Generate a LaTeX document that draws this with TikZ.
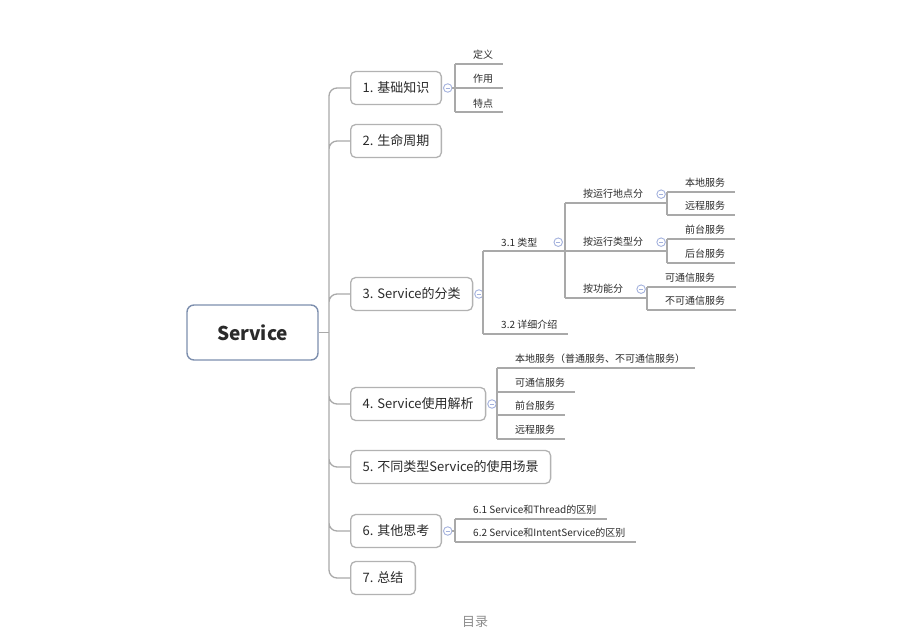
\documentclass[tikz,border=0pt]{standalone}
\usepackage{fontspec}
\setmainfont{Noto Sans CJK SC}
\usetikzlibrary{positioning}
\definecolor{astgrau}{HTML}{A9A9A9}
\definecolor{boxgrau}{HTML}{B2B2B2}
\definecolor{wurzelblau}{HTML}{7D8FAE}
\definecolor{knopfblau}{HTML}{A3B1DD}
\definecolor{schrift}{HTML}{2A2A2A}
\tikzset{
	%Define style for the root box
	wurzel/.style={
		rectangle,
		rounded corners=7pt,
		draw=wurzelblau, line width=1.4pt,
		fill=white,
		minimum width=131pt,
		minimum height=55pt,
		text=schrift,
		font=\fontsize{19}{21}\selectfont\bfseries},
	%Define style for first level boxes
	thema/.style={
		rectangle,
		rounded corners=5pt,
		draw=boxgrau, line width=1.3pt,
		fill=white,
		inner xsep=12pt,
		minimum height=33pt,
		text=schrift,
		font=\fontsize{13}{15}\selectfont},
	%Define style for underlined leaves
	blatt/.style={
		inner xsep=10pt,
		inner ysep=4pt,
		text=schrift,
		font=\fontsize{10}{11}\selectfont},
	blattw/.style={
		blatt,
		text width=#1,
		align=left},
	%Define style for the fold buttons
	knopf/.style={
		circle,
		draw=knopfblau, line width=0.9pt,
		fill=white,
		minimum size=8.5pt,
		inner sep=0pt,
		path picture={\draw[knopfblau, line width=0.8pt]
			([xshift=-2pt]path picture bounding box.center) --
			([xshift=2pt]path picture bounding box.center);}},
	% Define branch style
	ast/.style={
		draw=astgrau,
		line width=1.3pt}
}
\begin{document}
\begin{tikzpicture}[x=1pt, y=-1pt]
	\useasboundingbox (0,0) rectangle (905,635);
	
	\node[wurzel] (service) at (252.5,332.5) {Service};
	
	\node[thema, anchor=west] (t1) at (350,88) {1. 基础知识};
	\node[thema, anchor=west] (t2) at (350,141) {2. 生命周期};
	\node[thema, anchor=west] (t3) at (350,294) {3. Service的分类};
	\node[thema, anchor=west] (t4) at (350,404) {4. Service使用解析};
	\node[thema, anchor=west] (t5) at (350,467) {5. 不同类型Service的使用场景};
	\node[thema, anchor=west] (t6) at (350,531) {6. 其他思考};
	\node[thema, anchor=west] (t7) at (350,578) {7. 总结};
	
	% trunk
	\coordinate (stamm) at (329,332.5);
	\draw[ast] (service.east) -- (stamm);
	\draw[ast, rounded corners=8pt]
	(stamm) |- (t1.west) (stamm) |- (t2.west) (stamm) |- (t3.west)
	(stamm) |- (t4.west) (stamm) |- (t5.west) (stamm) |- (t6.west)
	(stamm) |- (t7.west);
	
	% 1. basics
	\node[knopf, right=1pt of t1] (f1) {};
	\coordinate (k1a) at (455,64);
	\coordinate (k1b) at (455,88);
	\coordinate (k1c) at (455,112);
	\node[blatt, above right=0pt and 8pt of k1a] (t1-def) {定义};
	\node[blatt, above right=0pt and 8pt of k1b] (t1-use) {作用};
	\node[blatt, above right=0pt and 8pt of k1c] (t1-feat) {特点};
	\draw[ast] (k1a) -- (k1c);
	\draw[ast] (f1.east) -- (t1-use.south east);
	\draw[ast] (k1a) -- (t1-def.south east);
	\draw[ast] (k1c) -- (t1-feat.south east);
	
	% 3. classes
	\node[knopf, right=1pt of t3] (f3) {};
	\coordinate (k3a) at (483,251);
	\coordinate (k3b) at (483,334);
	\node[blatt, above right=0pt and 8pt of k3a] (t3-typ) {3.1 类型};
	\node[blatt, above right=0pt and 8pt of k3b] (t3-det) {3.2 详细介绍};
	\node[knopf, right=6pt of t3-typ] (f31) {};
	
	\coordinate (k31a) at (565,203);
	\coordinate (k31b) at (565,251);
	\coordinate (k31c) at (565,298);
	\node[blatt, above right=0pt and 8pt of k31a] (ort) {按运行地点分};
	\node[blatt, above right=0pt and 8pt of k31b] (art) {按运行类型分};
	\node[blatt, above right=0pt and 8pt of k31c] (fkt) {按功能分};
	\node[knopf, right=3pt of ort] (f-ort) {};
	\node[knopf, right=3pt of art] (f-art) {};
	\node[knopf, right=3pt of fkt] (f-fkt) {};
	
	\coordinate (ka) at (667,203);
	\coordinate (ka1) at (667,192);
	\coordinate (ka2) at (667,215);
	\coordinate (kb) at (667,251);
	\coordinate (kb1) at (667,239);
	\coordinate (kb2) at (667,263);
	\coordinate (kc) at (647,298);
	\coordinate (kc1) at (647,287);
	\coordinate (kc2) at (647,310);
	\node[blatt, above right=0pt and 8pt of ka1] (ort-lok) {本地服务};
	\node[blatt, above right=0pt and 8pt of ka2] (ort-fern) {远程服务};
	\node[blatt, above right=0pt and 8pt of kb1] (art-vor) {前台服务};
	\node[blatt, above right=0pt and 8pt of kb2] (art-hin) {后台服务};
	\node[blattw=61pt, above right=0pt and 8pt of kc1] (fkt-ja) {可通信服务};
	\node[blattw=61pt, above right=0pt and 8pt of kc2] (fkt-nein) {不可通信服务};
	
	\draw[ast] (f3.east) -- (f3.east -| k3a);
	\draw[ast] (k3a) -- (k3b);
	\draw[ast] (k3a) -- (k31b) -- (kb);
	\draw[ast] (k3b) -- (t3-det.south east);
	\draw[ast] (k31a) -- (k31c);
	\draw[ast] (k31a) -- (ka);
	\draw[ast] (k31c) -- (kc);
	\draw[ast] (ka1) -- (ka2);
	\draw[ast] (kb1) -- (kb2);
	\draw[ast] (kc1) -- (kc2);
	\draw[ast] (ka1) -- (ort-lok.south east);
	\draw[ast] (ka2) -- (ort-fern.south east);
	\draw[ast] (kb1) -- (art-vor.south east);
	\draw[ast] (kb2) -- (art-hin.south east);
	\draw[ast] (kc1) -- (fkt-ja.south east);
	\draw[ast] (kc2) -- (fkt-nein.south east);
	
	% 4. usage
	\node[knopf, right=1pt of t4] (f4) {};
	\coordinate (k4a) at (497,368);
	\coordinate (k4b) at (497,392);
	\coordinate (k4c) at (497,415);
	\coordinate (k4d) at (497,439);
	\node[blatt, above right=0pt and 8pt of k4a] (t4-lok) {本地服务（普通服务、不可通信服务）};
	\node[blatt, above right=0pt and 8pt of k4b] (t4-ja) {可通信服务};
	\node[blatt, above right=0pt and 8pt of k4c] (t4-vor) {前台服务};
	\node[blatt, above right=0pt and 8pt of k4d] (t4-fern) {远程服务};
	\draw[ast] (f4.east) -- (f4.east -| k4a);
	\draw[ast] (k4a) -- (k4d);
	\draw[ast] (k4a) -- (t4-lok.south east);
	\draw[ast] (k4b) -- (t4-ja.south east);
	\draw[ast] (k4c) -- (t4-vor.south east);
	\draw[ast] (k4d) -- (t4-fern.south east);
	
	% 6. further thoughts
	\node[knopf, right=1pt of t6] (f6) {};
	\coordinate (k6a) at (455,519);
	\coordinate (k6b) at (455,542);
	\node[blatt, above right=0pt and 8pt of k6a] (t6-thr) {6.1 Service和Thread的区别};
	\node[blatt, above right=0pt and 8pt of k6b] (t6-int) {6.2 Service和IntentService的区别};
	\draw[ast] (f6.east) -- (f6.east -| k6a);
	\draw[ast] (k6a) -- (k6b);
	\draw[ast] (k6a) -- (t6-thr.south east);
	\draw[ast] (k6b) -- (t6-int.south east);
	
	\node[text=black!45, font=\fontsize{13}{15}\selectfont] (titel) at (475,622) {目录};
	
\end{tikzpicture}
\end{document}
